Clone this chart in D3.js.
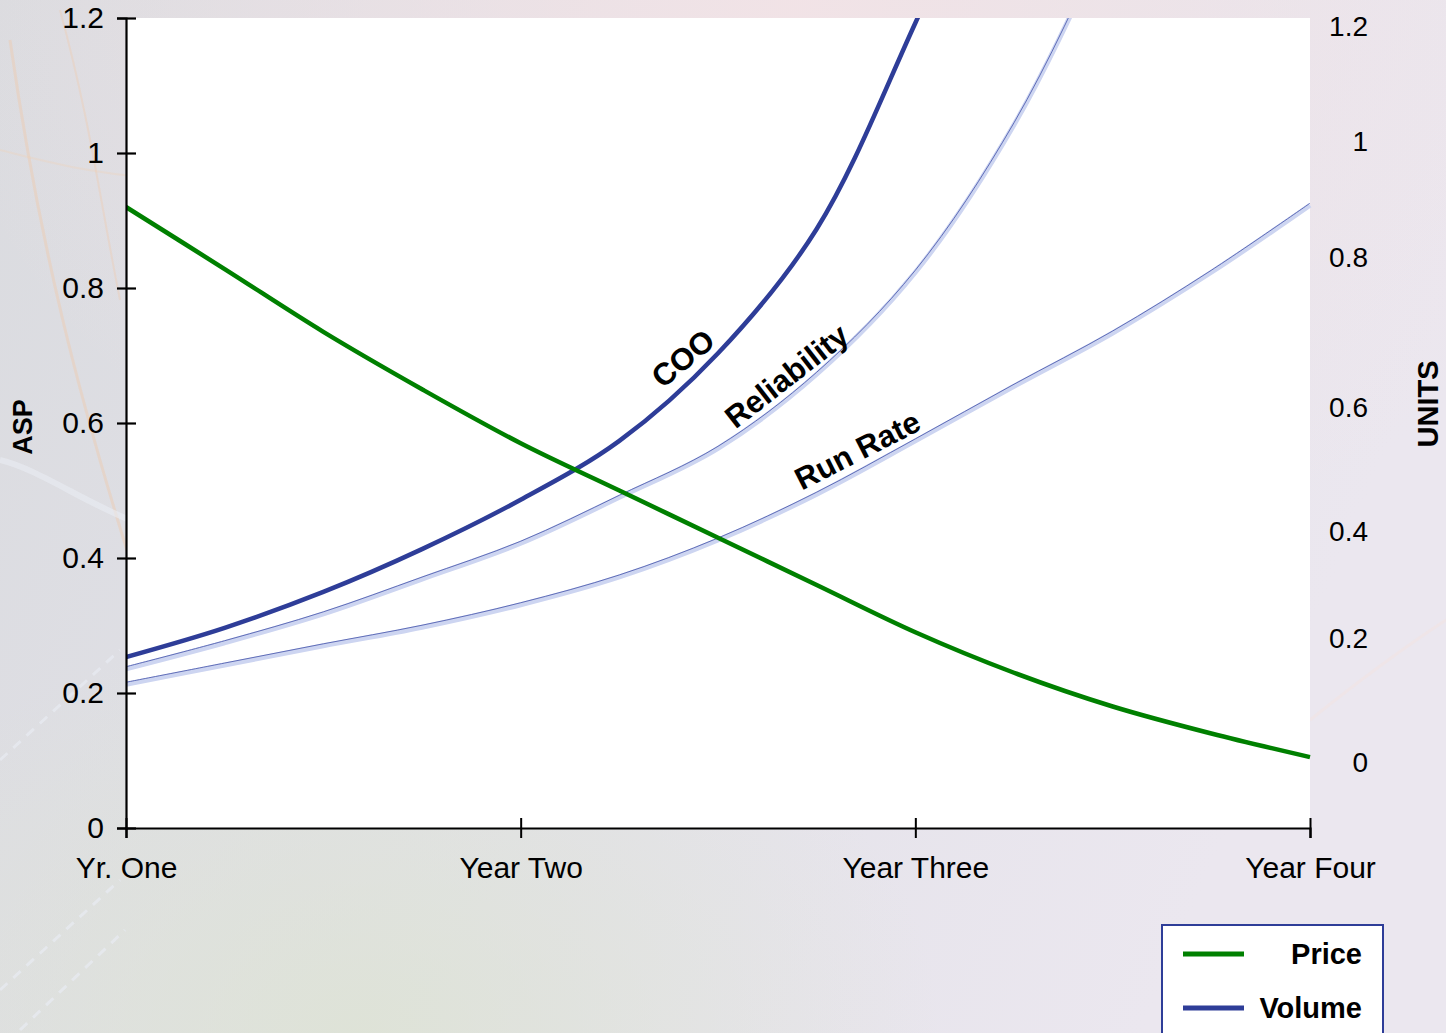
<!DOCTYPE html>
<html>
<head>
<meta charset="utf-8">
<script src="https://cdn.jsdelivr.net/npm/d3@7"></script>
<style>
  html, body { margin: 0; padding: 0; background: #e2e2e8; }
  svg { display: block; font-family: "Liberation Sans", Arial, sans-serif; }
</style>
</head>
<body>
<div id="chart"></div>
<script>
// categories on the x axis (one per year), data sampled every quarter
const years = ['Yr. One', 'Year Two', 'Year Three', 'Year Four'];
const quarters = [0, 0.25, 0.5, 0.75, 1, 1.25, 1.5, 1.75, 2, 2.25, 2.5, 2.75, 3];

// Price, read on the left (ASP) axis
const price = [0.92, 0.828, 0.735, 0.65, 0.57, 0.50, 0.43, 0.36, 0.29, 0.23, 0.18, 0.14, 0.105];

// Volume curves, read on the right (UNITS) axis
const coo         = [0.171, 0.221, 0.288, 0.368, 0.452, 0.547, 0.673, 0.850, 1.207, 1.60, 2.05, 2.5, 2.95];
const reliability = [0.152, 0.194, 0.247, 0.312, 0.379, 0.456, 0.535, 0.645, 0.781, 1.030, 1.377, 1.769, 2.151];
const runRate     = [0.127, 0.158, 0.189, 0.222, 0.264, 0.316, 0.385, 0.461, 0.547, 0.629, 0.700, 0.781, 0.891];

const aspTicks = [0, 0.2, 0.4, 0.6, 0.8, 1, 1.2];
const unitTicks = [0, 0.2, 0.4, 0.6, 0.8, 1, 1.2];

// curve labels: where along the curve (in years) and at what value
const curveLabels = [
  { text: 'COO', t: 1.44, v: 0.648, angle: -40, off: 7 },
  { text: 'Reliability', t: 1.70, v: 0.625, angle: -38, off: 6 },
  { text: 'Run Rate', t: 1.875, v: 0.505, angle: -27, off: 8 }
];

const legendItems = [
  { name: 'Price', color: '#008000' },
  { name: 'Volume', color: '#2e3d98' }
];

const W = 1446, H = 1033;
const plotL = 126, plotR = 1310, plotT = 18, plotB = 828;

const svg = d3.select('#chart').append('svg')
  .attr('width', W).attr('height', H);

// ---- background (faded slide picture) ----
const defs = svg.append('defs');
const bg = defs.append('linearGradient').attr('id', 'bg')
  .attr('x1', 0).attr('y1', 0).attr('x2', 1).attr('y2', 0.3);
bg.append('stop').attr('offset', '0%').attr('stop-color', '#dadbdf');
bg.append('stop').attr('offset', '55%').attr('stop-color', '#e3e2e9');
bg.append('stop').attr('offset', '100%').attr('stop-color', '#ebe7ef');
const glow = defs.append('radialGradient').attr('id', 'glow')
  .attr('cx', 0.55).attr('cy', 0).attr('r', 0.6);
glow.append('stop').attr('offset', '0%').attr('stop-color', '#f3e3e6').attr('stop-opacity', 0.9);
glow.append('stop').attr('offset', '100%').attr('stop-color', '#f3e3e6').attr('stop-opacity', 0);
const green = defs.append('radialGradient').attr('id', 'greenish')
  .attr('cx', 0.25).attr('cy', 1).attr('r', 0.4);
green.append('stop').attr('offset', '0%').attr('stop-color', '#dde3d3').attr('stop-opacity', 0.8);
green.append('stop').attr('offset', '100%').attr('stop-color', '#dde3d3').attr('stop-opacity', 0);

svg.append('rect').attr('width', W).attr('height', H).attr('fill', 'url(#bg)');
svg.append('rect').attr('width', W).attr('height', H).attr('fill', 'url(#glow)');
svg.append('rect').attr('width', W).attr('height', H).attr('fill', 'url(#greenish)');

// faint arcs of the picture
const deco = svg.append('g').attr('fill', 'none');
deco.append('path').attr('d', 'M10,40 C40,250 80,400 130,560')
  .attr('stroke', '#f0c9a8').attr('stroke-width', 3).attr('opacity', 0.4);
deco.append('path').attr('d', 'M60,10 C90,120 100,200 120,300')
  .attr('stroke', '#f0c9a8').attr('stroke-width', 2).attr('opacity', 0.35);
deco.append('path').attr('d', 'M0,150 C40,160 110,180 200,180')
  .attr('stroke', '#f2cfb2').attr('stroke-width', 2).attr('opacity', 0.3);
deco.append('path').attr('d', 'M0,460 C40,470 80,500 130,520')
  .attr('stroke', '#e9ecf4').attr('stroke-width', 6).attr('opacity', 0.6);
deco.append('path').attr('d', 'M0,990 L120,880 M20,1030 L125,930 M0,760 L120,650')
  .attr('stroke', '#e8ebf2').attr('stroke-width', 3).attr('stroke-dasharray', '10 8').attr('opacity', 0.7);
deco.append('path').attr('d', 'M1310,720 C1360,680 1400,650 1446,620')
  .attr('stroke', '#f1e4e2').attr('stroke-width', 3).attr('opacity', 0.6);

// ---- plot area ----
svg.append('rect')
  .attr('x', plotL).attr('y', plotT)
  .attr('width', plotR - plotL).attr('height', plotB - plotT)
  .attr('fill', '#ffffff');

defs.append('clipPath').attr('id', 'plotClip')
  .append('rect').attr('x', plotL).attr('y', plotT)
  .attr('width', plotR - plotL + 4).attr('height', plotB - plotT);

// ---- scales ----
const x = d3.scaleLinear().domain([0, 3]).range([plotL, plotR]);
const y = d3.scaleLinear().domain([0, 1.2]).range([plotB, plotT]);
// right labels were hand placed in the original, so the units scale is piecewise
const yR = d3.scaleLinear()
  .domain([0, 0.2, 0.4, 0.6, 0.8, 1, 1.2])
  .range([763, 639, 532, 408, 258, 142, 27]);

const fmt = d => String(+d.toFixed(1));

// ---- lines ----
const lineL = d3.line()
  .x((d, i) => x(quarters[i]))
  .y(d => y(d))
  .curve(d3.curveCatmullRom.alpha(0.5));
const lineR = d3.line()
  .x((d, i) => x(quarters[i]))
  .y(d => yR(d))
  .curve(d3.curveCatmullRom.alpha(0.5));

const plot = svg.append('g').attr('clip-path', 'url(#plotClip)');

// light two-tone volume curves
[runRate, reliability].forEach(s => {
  plot.append('path').attr('d', lineR(s))
    .attr('fill', 'none').attr('stroke', '#cdd5f1').attr('stroke-width', 5);
  plot.append('path').attr('d', lineR(s))
    .attr('transform', 'translate(0,-2)')
    .attr('fill', 'none').attr('stroke', '#4352a8').attr('stroke-width', 0.8);
});

plot.append('path').attr('d', lineR(coo))
  .attr('fill', 'none').attr('stroke', '#2e3d98').attr('stroke-width', 4.5);

plot.append('path').attr('d', lineL(price))
  .attr('fill', 'none').attr('stroke', '#008000').attr('stroke-width', 4.5);

// ---- axes ----
const axL = svg.append('g')
  .attr('transform', `translate(${plotL},0)`)
  .call(d3.axisLeft(y).tickValues(aspTicks).tickFormat(fmt).tickSize(9));
axL.select('.domain').attr('stroke', '#000').attr('stroke-width', 2.2);
axL.selectAll('.tick line').attr('x1', 10).attr('x2', -9).attr('stroke', '#000').attr('stroke-width', 2.2);
axL.selectAll('.tick text').attr('x', -22)
  .style('font-size', '30px').style('font-family', '"Liberation Sans", Arial, sans-serif').attr('fill', '#000');

const axB = svg.append('g')
  .attr('transform', `translate(0,${plotB})`)
  .call(d3.axisBottom(x).tickValues([0, 1, 2, 3]).tickFormat(d => years[d]).tickSize(10));
axB.select('.domain').attr('stroke', '#000').attr('stroke-width', 2.2);
axB.selectAll('.tick line').attr('y1', -10).attr('y2', 10).attr('stroke', '#000').attr('stroke-width', 2);
axB.selectAll('.tick text').attr('y', 29)
  .style('font-size', '30px').style('font-family', '"Liberation Sans", Arial, sans-serif').attr('fill', '#000');

const axR = svg.append('g')
  .attr('transform', 'translate(1368,0)')
  .call(d3.axisRight(yR).tickValues(unitTicks).tickFormat(fmt).tickSize(0));
axR.select('.domain').remove();
axR.selectAll('.tick text').attr('x', 0).attr('text-anchor', 'end')
  .style('font-size', '28px').style('font-family', '"Liberation Sans", Arial, sans-serif').attr('fill', '#000');

// axis titles
svg.append('text')
  .attr('transform', 'translate(32,427) rotate(-90)')
  .attr('text-anchor', 'middle')
  .style('font-size', '27px').style('font-weight', 'bold')
  .text('ASP');
svg.append('text')
  .attr('transform', 'translate(1438,404) rotate(-90)')
  .attr('text-anchor', 'middle')
  .style('font-size', '29px').style('font-weight', 'bold')
  .text('UNITS');

// curve labels
svg.selectAll('.curve-label')
  .data(curveLabels)
  .enter()
  .append('text')
  .attr('class', 'curve-label')
  .attr('transform', d => `translate(${x(d.t)},${yR(d.v)}) rotate(${d.angle})`)
  .attr('y', d => -d.off)
  .attr('text-anchor', 'middle')
  .style('font-size', '31px').style('font-weight', 'bold')
  .text(d => d.text);

// ---- legend ----
const lg = svg.append('g').attr('transform', 'translate(1162,925)');
lg.append('rect')
  .attr('width', 221).attr('height', 130)
  .attr('fill', '#fff').attr('stroke', '#2e3d98').attr('stroke-width', 2);
const li = lg.selectAll('.item')
  .data(legendItems)
  .enter()
  .append('g')
  .attr('transform', (d, i) => `translate(0,${29 + i * 54})`);
li.append('line')
  .attr('x1', 21).attr('x2', 82)
  .attr('stroke', d => d.color).attr('stroke-width', 5);
li.append('text')
  .attr('x', 200).attr('dy', '0.36em')
  .attr('text-anchor', 'end')
  .style('font-size', '29px').style('font-weight', 'bold')
  .text(d => d.name);
</script>
</body>
</html>
